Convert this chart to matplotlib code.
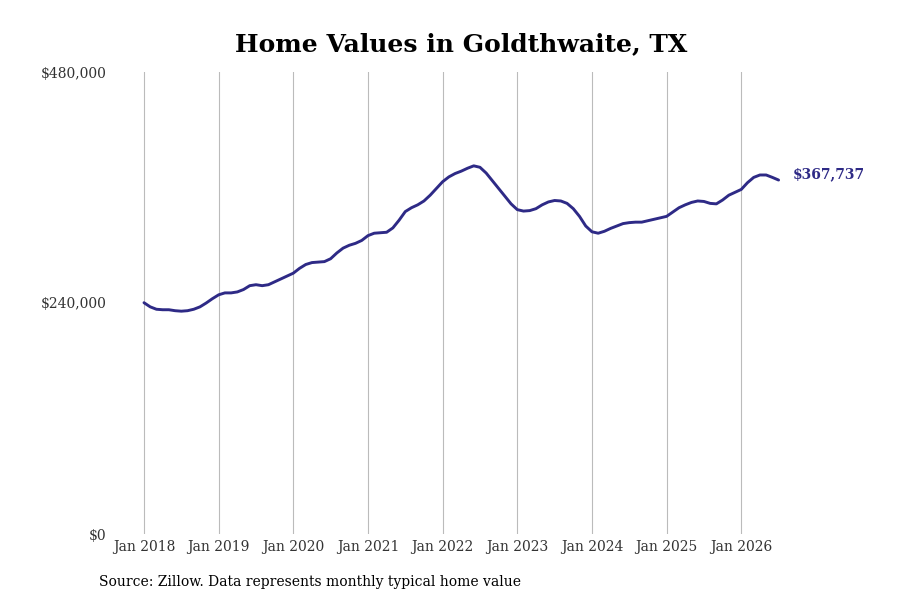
import numpy as np
import matplotlib
matplotlib.use("Agg")
import matplotlib.pyplot as plt
from matplotlib.ticker import FuncFormatter

# monthly typical home value, Jan 2018 .. Jul 2026 (in $1000s)
values_2018 = [240.3, 236, 233.5, 233, 233, 232, 231.5, 232, 233.5, 236, 240, 244.5]
values_2019 = [248.5, 250.5, 250.5, 251.5, 254, 258, 259, 258, 259, 262, 265, 268]
values_2020 = [271, 276, 280, 282, 282.5, 283, 286, 292, 297, 300, 302, 305]
values_2021 = [310, 312.5, 313, 313.5, 318, 326, 335, 339, 342, 346, 352, 359]
values_2022 = [366, 371, 374.5, 377, 380, 382.5, 381, 375, 367, 359, 351, 343]
values_2023 = [337, 335.5, 336, 338, 342, 345, 346.5, 346, 343.5, 338, 330, 320]
values_2024 = [314, 312.5, 314.5, 317.5, 320, 322.5, 323.5, 324, 324, 325.5, 327, 328.5]
values_2025 = [330, 334.5, 339, 342, 344.5, 346, 345.5, 343.5, 343, 347, 352, 355]
values_2026 = [358, 365, 370.5, 373, 373, 370.5, 367.737]

tick_labels = ["Jan 2018", "Jan 2019", "Jan 2020", "Jan 2021", "Jan 2022",
               "Jan 2023", "Jan 2024", "Jan 2025", "Jan 2026"]
y_ticks = [0, 240000, 480000]

LINE_COLOR = "#2e2a86"

values = np.array(values_2018 + values_2019 + values_2020 + values_2021 + values_2022
                  + values_2023 + values_2024 + values_2025 + values_2026) * 1000
months = np.arange(len(values))

plt.rcParams["font.family"] = "DejaVu Serif"

fig = plt.figure(figsize=(9, 6), dpi=100)
ax = fig.add_axes([115 / 900, 66 / 600, 765 / 900, 462 / 600])

ax.plot(months, values, color=LINE_COLOR, linewidth=2.1, solid_capstyle="round")
ax.text(months[-1] + 2.2, values[-1] - 1500, f"${values[-1]:,.0f}", color=LINE_COLOR,
        fontsize=10, fontweight="bold", va="bottom", ha="left")

ax.set_xlim(-4.66, 118.3)
ax.set_ylim(0, 480000)
ax.set_xticks(np.arange(0, 12 * len(tick_labels), 12))
ax.set_xticklabels(tick_labels, fontsize=10, color="#333333")
ax.set_yticks(y_ticks)
ax.yaxis.set_major_formatter(FuncFormatter(lambda v, p: f"${v:,.0f}"))
ax.tick_params(axis="y", labelsize=10, labelcolor="#333333", length=0, pad=6)
ax.tick_params(axis="x", length=0, pad=4)
ax.grid(axis="x", color="#bbbbbb", linewidth=0.8)
ax.grid(axis="y", visible=False)
for s in ax.spines.values():
    s.set_visible(False)

fig.text(461 / 900, 1 - 44 / 600, "Home Values in Goldthwaite, TX", fontsize=18,
         fontweight="bold", ha="center", va="center")
fig.text(99 / 900, 1 - 582 / 600, "Source: Zillow. Data represents monthly typical home value",
         fontsize=10, va="center", ha="left")

fig.savefig("out.png", dpi=100)
